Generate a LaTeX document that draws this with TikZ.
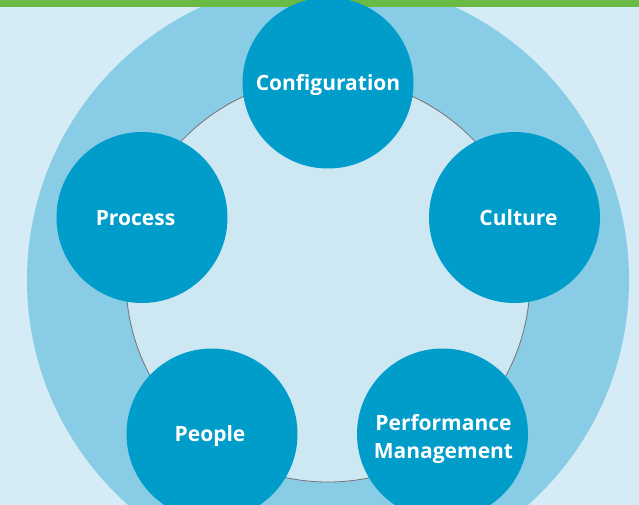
\documentclass[tikz,border=0pt]{standalone}
\usepackage{fontspec}
\setsansfont{Open Sans}
\definecolor{barGreen}{HTML}{6ABB46}
\definecolor{paleBg}{HTML}{D5ECF6}
\definecolor{ringBlue}{HTML}{88CCE6}
\definecolor{hubFill}{HTML}{CDE8F3}
\definecolor{pillarBlue}{HTML}{009CCA}
\tikzset{
  pillar/.style={circle, fill=pillarBlue, minimum size=171pt, inner sep=0pt},
  pillartext/.style={text=white, align=center, inner sep=0pt,
    font=\sffamily\bfseries\fontsize{21}{28}\selectfont},
  capline/.style={text height=15pt, text depth=0pt},
  hubline/.style={draw=black!55, line width=0.8pt},
}

\begin{document}
\begin{tikzpicture}[x=1pt, y=-1pt]
  \useasboundingbox (0,0) rectangle (639,505);
  \fill[paleBg] (0,0) rectangle (639,505);

  % Outer ring and inner hub.
  \coordinate (hub) at (328,280);
  \begin{scope}
    \clip (0,0) rectangle (639,505);
    \fill[ringBlue] (hub) circle[radius=301];
    \filldraw[fill=hubFill, hubline] (hub) circle[radius=202];
  \end{scope}
  \fill[barGreen] (0,0) rectangle (639,7);

  % The five elements, around the hub.
  \node[pillar, label={[pillartext, capline]center:Configuration}] (config) at (328,83) {};
  \node[pillar, label={[pillartext, capline, xshift=4pt]center:Culture}] (culture) at (514.5,217.5) {};
  \node[pillar, label={[pillartext, yshift=-4.5pt, xshift=1pt]center:Performance\\Management}] (perf) at (442.5,434) {};
  \node[pillar, label={[pillartext, capline, xshift=-2pt]center:People}] (people) at (212,434) {};
  \node[pillar, label={[pillartext, capline, xshift=-6.5pt]center:Process}] (process) at (142,217.5) {};
\end{tikzpicture}
\end{document}
